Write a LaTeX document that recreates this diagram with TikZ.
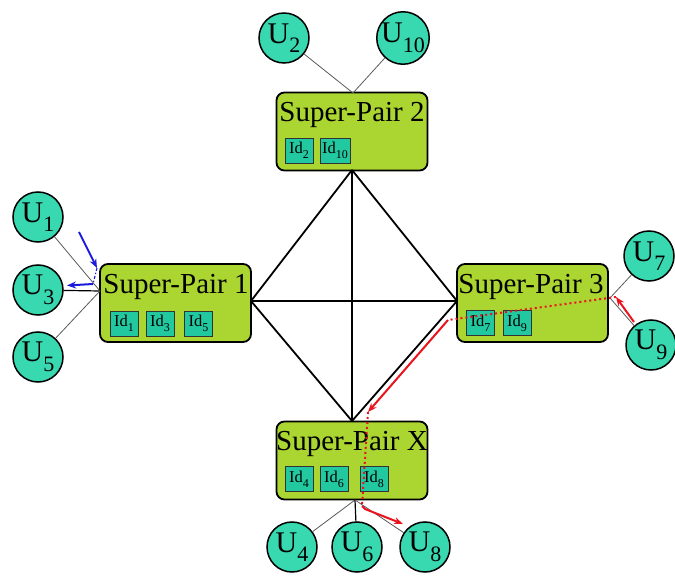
\documentclass[tikz,border=0pt]{standalone}
\usepackage{fontspec}
\setmainfont{Liberation Serif}
\usetikzlibrary{arrows.meta}
\definecolor{ucol}{HTML}{38D8B0}
\definecolor{spcol}{HTML}{ABD531}
\definecolor{idcol}{HTML}{22C8A0}
\definecolor{redc}{HTML}{E8141E}
\definecolor{bluec}{HTML}{1A1ADC}
\newcommand{\lowsub}[1]{\raisebox{-0.32em}{\fontsize{22}{22}\selectfont #1}}
\newcommand{\idsub}[1]{\raisebox{-0.3em}{\fontsize{12}{12}\selectfont #1}}
\tikzset{
  user/.style={circle,draw=black,line width=1.5pt,fill=ucol,minimum size=50pt,inner sep=0pt,font=\fontsize{30}{30}\selectfont},
  spbox/.style={draw=black,line width=1.8pt,fill=spcol,rounded corners=8pt,minimum width=151pt,minimum height=78pt,inner sep=0pt},
  sptext/.style={font=\fontsize{29}{29}\selectfont,inner sep=0pt},
  idbox/.style={draw=black!80,line width=0.8pt,fill=idcol,minimum width=28pt,minimum height=25pt,inner sep=0pt,font=\fontsize{16.5}{16.5}\selectfont},
  ulink/.style={draw=black!65,line width=0.8pt},
  core/.style={draw=black,line width=1.8pt},
  redarr/.style={draw=redc,line width=2pt,-{Stealth[length=9pt,width=7pt]}},
  reddot/.style={draw=redc,line width=2pt,dash pattern=on 2pt off 3pt},
  bluearr/.style={draw=bluec,line width=2pt,-{Stealth[length=9pt,width=7pt]}},
}
\begin{document}
\begin{tikzpicture}[x=1pt,y=-1pt]
\useasboundingbox (0,0) rectangle (675,577);
% super pair boxes
\node[spbox] (sp2) at (352,131.5) {};
\node[spbox] (sp1) at (175.5,303) {};
\node[spbox] (sp3) at (532.5,303) {};
\node[spbox] (spx) at (352,460.5) {};
% connection points
\coordinate (c2) at (352,170);
\coordinate (c1) at (251,301);
\coordinate (c3) at (457,301);
\coordinate (cx) at (352,421);
\coordinate (u2p) at (353,93);
\coordinate (u1p) at (100,291);
\coordinate (u3p) at (610,298);
\coordinate (uxp) at (355,500);
% users
\node[user] (U2) at (284,38) {U\lowsub{2}};
\node[user] (U10) at (403,38) {U\lowsub{10}};
\node[user] (U1) at (38,217) {U\lowsub{1}};
\node[user] (U3) at (38,290) {U\lowsub{3}};
\node[user] (U5) at (38,357) {U\lowsub{5}};
\node[user] (U7) at (649,256) {U\lowsub{7}};
\node[user] (U9) at (651,345) {U\lowsub{9}};
\node[user] (U4) at (292,547) {U\lowsub{4}};
\node[user] (U6) at (357,547) {U\lowsub{6}};
\node[user] (U8) at (425,547) {U\lowsub{8}};
% user links
\draw[ulink] (U2) -- (u2p);
\draw[ulink] (U10) -- (u2p);
\draw[ulink] (U1) -- (u1p);
\draw[ulink,line width=1.2pt,draw=black] (U3) -- (u1p);
\draw[ulink] (U5) -- (u1p);
\draw[ulink] (U7) -- (u3p);
\draw[ulink] (U9) -- (u3p);
\draw[ulink] (U4) -- (uxp);
\draw[ulink,draw=black,line width=1.2pt] (U6) -- (uxp);
\draw[ulink] (U8) -- (uxp);
% core links
\draw[core] (c2) -- (c1);
\draw[core] (c2) -- (c3);
\draw[core] (c2) -- (cx);
\draw[core] (c1) -- (c3);
\draw[core] (c1) -- (cx);
\draw[core] (c3) -- (cx);
% box titles
\node[sptext] (t2) at (352,115) {Super-Pair 2};
\node[sptext] (t1) at (176,287) {Super-Pair 1};
\node[sptext] (t3) at (531,287) {Super-Pair 3};
\node[sptext] (tx) at (352,444) {Super-Pair X};
% id boxes
\node[idbox] (id2) at (299,150.5) {Id\idsub{2}};
\node[idbox,minimum width=30pt] (id10) at (335,150.5) {Id\idsub{10}};
\node[idbox] (id1) at (124,323.5) {Id\idsub{1}};
\node[idbox] (id3) at (160,323.5) {Id\idsub{3}};
\node[idbox] (id5) at (198.5,323.5) {Id\idsub{5}};
\node[idbox] (id7) at (480.5,323) {Id\idsub{7}};
\node[idbox] (id9) at (517,323) {Id\idsub{9}};
\node[idbox] (id4) at (299,479) {Id\idsub{4}};
\node[idbox] (id6) at (334,479) {Id\idsub{6}};
\node[idbox] (id8) at (374,479) {Id\idsub{8}};
% blue path
\coordinate (b0) at (79,232);
\coordinate (b1) at (97,268);
\coordinate (b2) at (93,284);
\coordinate (b3) at (67,285.5);
\draw[bluearr] (b0) -- (b1);
\draw[draw=bluec,line width=1.2pt,dash dot] (b1) -- (b2);
\draw[bluearr] (b2) -- (b3);
% red path
\coordinate (r0) at (634,322);
\coordinate (r1) at (616,297);
\coordinate (r2) at (448,320);
\coordinate (r3) at (368,412);
\coordinate (r4) at (362,506);
\coordinate (r5) at (403,524);
\draw[redarr] (r0) -- (r1);
\draw[reddot] (r1) -- (r2);
\draw[redarr] (r2) -- (r3);
\draw[reddot] (r3) -- (r4);
\draw[redarr] (r4) -- ++(3,3) -- (r5);
\end{tikzpicture}
\end{document}
